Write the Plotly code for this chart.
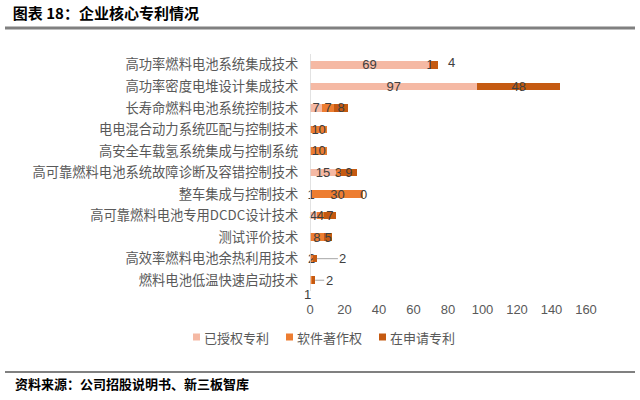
import plotly.graph_objects as go

categories = [
    "高功率燃料电池系统集成技术",
    "高功率密度电堆设计集成技术",
    "长寿命燃料电池系统控制技术",
    "电电混合动力系统匹配与控制技术",
    "高安全车载氢系统集成与控制系统",
    "高可靠燃料电池系统故障诊断及容错控制技术",
    "整车集成与控制技术",
    "高可靠燃料电池专用DCDC设计技术",
    "测试评价技术",
    "高效率燃料电池余热利用技术",
    "燃料电池低温快速启动技术",
]
granted = [69, 97, 7, 0, 0, 15, 1, 4, 0, 0, 0]
software = [1, 0, 7, 10, 10, 3, 30, 4, 8, 2, 1]
pending = [4, 48, 8, 0, 0, 9, 0, 7, 5, 2, 2]
series_names = ["已授权专利", "软件著作权", "在申请专利"]
colors = ["#F5B9A4", "#ED7D31", "#C55A11"]
x_ticks = [0, 20, 40, 60, 80, 100, 120, 140, 160]

W, H = 640, 400
ML, MR, MT, MB = 310, 54, 54, 109
PW, PH = W - ML - MR, H - MT - MB


def px(x):
    return (x - ML) / PW


def py(y):
    return (H - MB - y) / PH


# labels drawn as call-outs instead of inside the bar: (series index, row index)
callouts = {(2, 0): (14, 2, False), (2, 9): (26, 0, True), (2, 10): (14, 0, True),
            (1, 10): (-3, -14, False), (2, 6): (0, 0, False)}

fig = go.Figure()
all_series = [granted, software, pending]
for si, (name, vals, col) in enumerate(zip(series_names, all_series, colors)):
    texts = []
    for ri, v in enumerate(vals):
        if v > 0 and (si, ri) not in callouts:
            texts.append(str(v))
        else:
            texts.append("")
    fig.add_trace(go.Bar(
        y=categories, x=vals, name=name, orientation="h",
        marker=dict(color=col, line=dict(width=0)),
        text=texts, textposition="inside", insidetextanchor="middle", textangle=0,
        textfont=dict(color="#404040", size=13, family="Liberation Sans"),
        cliponaxis=False, showlegend=False,
    ))

annotations = []
for (si, ri), (dx, dy, arrow) in callouts.items():
    cum = sum(all_series[k][ri] for k in range(si + 1))
    v = all_series[si][ri]
    if arrow:
        annotations.append(dict(x=cum, y=categories[ri], xref="x", yref="y",
                                text=str(v), showarrow=True, arrowhead=0, arrowwidth=1,
                                arrowcolor="#A6A6A6", ax=dx, ay=0,
                                font=dict(color="#404040", size=13, family="Liberation Sans")))
    else:
        pos = cum - v / 2 if si != 2 or v == 0 else cum
        annotations.append(dict(x=pos, y=categories[ri], xref="x", yref="y",
                                text=str(v), showarrow=False, xshift=dx, yshift=dy,
                                xanchor="center",
                                font=dict(color="#404040", size=13, family="Liberation Sans")))

annotations.append(dict(x=px(13), y=py(383), xref="paper", yref="paper",
                        text="<b>资料来源：公司招股说明书、新三板智库</b>", showarrow=False,
                        xanchor="left", yanchor="middle",
                        font=dict(color="#000000", size=13, family="Noto Sans CJK SC")))

shapes = [
    dict(type="line", xref="paper", yref="paper", x0=px(5), x1=px(635), y0=py(28), y1=py(28),
         line=dict(color="#808080", width=3)),
    dict(type="line", xref="paper", yref="paper", x0=px(5), x1=px(635), y0=py(372), y1=py(372),
         line=dict(color="#808080", width=2)),
    dict(type="line", xref="x", yref="paper", x0=0, x1=0, y0=0, y1=1,
         line=dict(color="#D9D9D9", width=1.5)),
]

# legend (swatch + label), laid out like the original
legend_x = [193, 286, 379]
legend_y = 337
for lx, name, col in zip(legend_x, series_names, colors):
    shapes.append(dict(type="rect", xref="paper", yref="paper",
                       x0=px(lx), x1=px(lx + 7), y0=py(legend_y + 3.5), y1=py(legend_y - 3.5),
                       fillcolor=col, line=dict(width=0)))
    annotations.append(dict(x=px(lx + 9), y=py(legend_y), xref="paper", yref="paper",
                            text=name, showarrow=False, xanchor="left", yanchor="middle",
                            font=dict(size=13, color="#595959", family="Noto Sans CJK SC")))

fig.update_layout(
    width=W, height=H,
    margin=dict(l=ML, r=MR, t=MT, b=MB, autoexpand=False),
    paper_bgcolor="white", plot_bgcolor="white",
    barmode="stack", bargap=0.65,
    uniformtext=dict(minsize=13, mode="show"),
    title=dict(text="<b>图表 18：企业核心专利情况</b>", x=0.02, xref="container",
               y=0.965, yref="container", xanchor="left", yanchor="middle",
               font=dict(size=15, color="#000000", family="Noto Sans CJK SC")),
    xaxis=dict(range=[0, 160], tickvals=x_ticks, showgrid=False, zeroline=False,
               showline=False, ticks="outside", ticklen=6, tickcolor="white",
               automargin=False,
               tickfont=dict(size=13, color="#595959", family="Liberation Sans")),
    yaxis=dict(categoryorder="array", categoryarray=categories, autorange="reversed",
               showgrid=False, zeroline=False, showline=False, ticks="outside",
               ticklen=8, tickcolor="white", automargin=False,
               tickfont=dict(size=13.3, color="#595959", family="Noto Sans CJK SC")),
    annotations=annotations, shapes=shapes,
    showlegend=False,
)

fig.write_html("out.html")
